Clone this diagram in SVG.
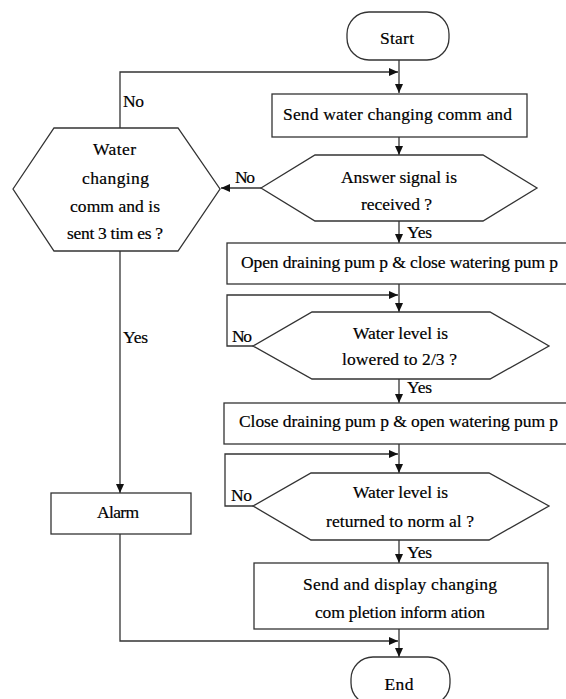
<svg xmlns="http://www.w3.org/2000/svg" width="566" height="699" viewBox="0 0 566 699">
<style>
.s{fill:#fff;stroke:#333;stroke-width:1.3}
.c{fill:none;stroke:#333;stroke-width:1.3}
text{font-family:"Liberation Serif","Times New Roman",serif;font-size:17.5px;fill:#000;stroke:#000;stroke-width:0.2}
.m{text-anchor:middle}
</style>
<defs>
<marker id="ah" markerWidth="10" markerHeight="10" refX="9" refY="5" orient="auto" markerUnits="userSpaceOnUse">
<path d="M0,1 L9,5 L0,9 Z" fill="#111"/>
</marker>
</defs>
<rect width="566" height="699" fill="#fff"/>
<g id="connectors">
<path class="c" d="M399,60 V93" marker-end="url(#ah)"/>
<path class="c" d="M120,128 V72 H398" marker-end="url(#ah)"/>
<path class="c" d="M399,137 V155" marker-end="url(#ah)"/>
<path class="c" d="M261,188 H221" marker-end="url(#ah)"/>
<path class="c" d="M399,221 V243" marker-end="url(#ah)"/>
<path class="c" d="M399,284 V312" marker-end="url(#ah)"/>
<path class="c" d="M253,346 H227 V295 H398" marker-end="url(#ah)"/>
<path class="c" d="M399,379 V403" marker-end="url(#ah)"/>
<path class="c" d="M399,444 V473" marker-end="url(#ah)"/>
<path class="c" d="M253,506 H225 V454 H398" marker-end="url(#ah)"/>
<path class="c" d="M399,540 V563" marker-end="url(#ah)"/>
<path class="c" d="M399,629 V657" marker-end="url(#ah)"/>
<path class="c" d="M120,534 V641 H398" marker-end="url(#ah)"/>
<path class="c" d="M120,251 V493" marker-end="url(#ah)"/>
<text x="123" y="107" textLength="21">No</text>
<text x="235" y="183" textLength="20">No</text>
<text x="407" y="238" textLength="25">Yes</text>
<text x="232" y="342" textLength="20">No</text>
<text x="407" y="393" textLength="25">Yes</text>
<text x="231" y="501" textLength="21">No</text>
<text x="407" y="558" textLength="25">Yes</text>
<text x="123" y="343" textLength="25">Yes</text>
</g>
<g id="start">
<rect class="s" x="347" y="12" width="102" height="48" rx="22"/>
<text class="m" x="397" y="44" textLength="34">Start</text>
</g>
<g id="send">
<rect class="s" x="272" y="94" width="255" height="43"/>
<text class="m" x="397.5" y="120" textLength="229">Send water changing comm and</text>
</g>
<g id="answer">
<polygon class="s" points="261,188 315,155 483,155 537,188 483,221 315,221"/>
<text class="m" x="399" y="183" textLength="116">Answer  signal is</text>
<text class="m" x="396.5" y="210" textLength="71">received ?</text>
</g>
<g id="sent3">
<polygon class="s" points="13,189 54,128 178,128 220,189 178,251 54,251"/>
<text class="m" x="114.5" y="155" textLength="43">Water</text>
<text class="m" x="115.5" y="184" textLength="67">changing</text>
<text class="m" x="115" y="212" textLength="90">comm and is</text>
<text class="m" x="115" y="239" textLength="96">sent 3  tim es ?</text>
</g>
<g id="open">
<rect class="s" x="227" y="243" width="341" height="41"/>
<text x="241" y="268" textLength="317">Open draining pum p &amp; close watering pum p</text>
</g>
<g id="lowered">
<polygon class="s" points="253,346 312,312 490,312 549,346 490,379 312,379"/>
<text class="m" x="400.5" y="339" textLength="95">Water level is</text>
<text class="m" x="399.5" y="365" textLength="115">lowered to 2/3 ?</text>
</g>
<g id="close">
<rect class="s" x="224" y="403" width="344" height="41"/>
<text x="239" y="427" textLength="319">Close  draining pum p &amp; open watering pum p</text>
</g>
<g id="normal">
<polygon class="s" points="253,506 311,473 489,473 549,506 489,540 311,540"/>
<text class="m" x="400.5" y="498" textLength="95">Water level is</text>
<text class="m" x="400" y="527" textLength="148">returned to norm al ?</text>
</g>
<g id="display">
<rect class="s" x="254" y="563" width="294" height="66"/>
<text class="m" x="400" y="590" textLength="194">Send and display changing</text>
<text class="m" x="400" y="618" textLength="170">com pletion inform ation</text>
</g>
<g id="alarm">
<rect class="s" x="51" y="493" width="140" height="41"/>
<text class="m" x="118" y="518" textLength="42">Alarm</text>
</g>
<g id="end">
<rect class="s" x="351" y="657" width="99" height="48" rx="22"/>
<text class="m" x="399" y="690" textLength="29">End</text>
</g>
</svg>
